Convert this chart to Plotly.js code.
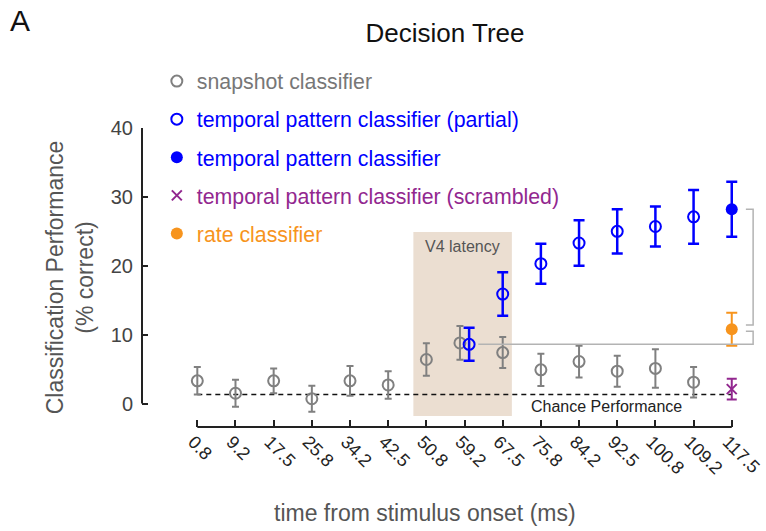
<!DOCTYPE html>
<html>
<head>
<meta charset="utf-8">
<script src="https://cdn.plot.ly/plotly-3.0.1.min.js"></script>
<style>html,body{margin:0;padding:0;background:#fff;}#chart{width:766px;height:531px;}</style>
</head>
<body>
<div id="chart"></div>
<script>
// ---- data ----
const timeLabels = ['0.8','9.2','17.5','25.8','34.2','42.5','50.8','59.2','67.5','75.8','84.2','92.5','100.8','109.2','117.5'];
const snapshotMean = [3.3, 1.5, 3.3, 0.7, 3.3, 2.7, 6.4, 8.8, 7.4, 4.9, 6.1, 4.7, 5.1, 3.1];
const snapshotErr  = [2.0, 1.95, 1.8, 1.9, 2.15, 2.0, 2.35, 2.45, 2.25, 2.35, 2.3, 2.25, 2.8, 2.2];
const partialStart = 7;
const partialMean  = [8.6, 15.9, 20.3, 23.3, 25.0, 25.7, 27.1];
const partialErr   = [2.4, 3.15, 2.9, 3.3, 3.2, 2.9, 3.9];
const fullMean = [28.2];
const fullErr  = [4.0];
const scrambledMean = [2.1];
const scrambledErr  = [1.5];
const rateMean = [10.8];
const rateErr  = [2.4];
const chance = 1.3;
const v4Latency = [5.66, 8.24];   // in time-bin index units
const dodge = 0.12;               // side-by-side offset where snapshot & partial overlap

// ---- build ----
const idx = timeLabels.map((_, i) => i);
const last = timeLabels.length - 1;
const snapX = snapshotMean.map((_, i) => i === partialStart ? i - dodge : i);
const partX = partialMean.map((_, k) => k === 0 ? partialStart + dodge : partialStart + k);

const GRAY = '#808080', BLUE = '#0000ff', PURPLE = '#92278f', ORANGE = '#f7941d';

const traces = [
  {x: [0, last], y: [chance, chance], mode: 'lines', showlegend: false, hoverinfo: 'skip',
   line: {color: '#111', width: 1.5, dash: '5px,4px'}},
  {x: snapX, y: snapshotMean, mode: 'markers', legendgroup: 'a',
   name: '<span style="color:#777">snapshot classifier</span>',
   marker: {symbol: 'circle-open', size: 11, color: GRAY, line: {width: 2, color: GRAY}},
   error_y: {type: 'data', array: snapshotErr, color: GRAY, thickness: 2, width: 3.5}},
  {x: partX, y: partialMean, mode: 'markers', legendgroup: 'b',
   name: '<span style="color:#0000ff">temporal pattern classifier (partial)</span>',
   marker: {symbol: 'circle-open', size: 11, color: BLUE, line: {width: 2, color: BLUE}},
   error_y: {type: 'data', array: partialErr, color: BLUE, thickness: 2.5, width: 5.5}},
  {x: [last], y: fullMean, mode: 'markers', legendgroup: 'c',
   name: '<span style="color:#0000ff">temporal pattern classifier</span>',
   marker: {symbol: 'circle', size: 12, color: BLUE},
   error_y: {type: 'data', array: fullErr, color: BLUE, thickness: 2.5, width: 5.5}},
  {x: [last], y: scrambledMean, mode: 'markers', legendgroup: 'd',
   name: '<span style="color:#92278f">temporal pattern classifier (scrambled)</span>',
   marker: {symbol: 'x-thin', size: 10, color: PURPLE, line: {width: 2, color: PURPLE}},
   error_y: {type: 'data', array: scrambledErr, color: PURPLE, thickness: 2, width: 5}},
  {x: [last], y: rateMean, mode: 'markers', legendgroup: 'e',
   name: '<span style="color:#f7941d">rate classifier</span>',
   marker: {symbol: 'circle', size: 12, color: ORANGE},
   error_y: {type: 'data', array: rateErr, color: ORANGE, thickness: 2, width: 5.5}}
];

const bx0 = last + 0.37, bx1 = last + 0.56;
const upperTop = fullMean[0], upperBot = rateMean[0] + 0.6;
const lowerBot = partialMean[0], lowerTop = rateMean[0] - 0.3;

const layout = {
  width: 766, height: 531,
  margin: {l: 142, r: 6, t: 128, b: 104.3},
  paper_bgcolor: '#fff', plot_bgcolor: 'rgba(0,0,0,0)',
  font: {family: 'Liberation Sans, Arial, sans-serif', color: '#222'},
  title: {text: 'Decision Tree', x: 445/766, xanchor: 'center', y: 1 - 33/531, yanchor: 'middle',
          font: {size: 26, color: '#111'}},
  showlegend: true,
  legend: {x: 0.024, xanchor: 'left', y: 1.225, yanchor: 'top', bgcolor: 'rgba(0,0,0,0)',
           font: {size: 21.3}, tracegroupgap: 7.4, traceorder: 'grouped'},
  xaxis: {range: [-1.449, 14.74], tickmode: 'array', tickvals: idx, ticktext: timeLabels,
          tickangle: 45, ticks: 'inside', ticklen: 7, tickwidth: 2, tickcolor: '#222',
          ticklabeloverflow: 'allow', ticklabelshift: -4,
          showline: false, showgrid: false, zeroline: false,
          tickfont: {size: 18, color: '#222'}},
  yaxis: {range: [-3.4, 40], tickvals: [0, 10, 20, 30, 40], ticks: 'inside', ticklen: 6, tickwidth: 2,
          tickcolor: '#222', showline: false, showgrid: false, zeroline: false,
          ticklabelstandoff: 8,
          tickfont: {size: 20, color: '#444'},
          title: {text: 'Classification Performance<br>(% correct)', font: {size: 23, color: '#555'}, standoff: 10}},
  shapes: [
    {type: 'rect', xref: 'x', yref: 'y', x0: v4Latency[0], x1: v4Latency[1], y0: -1.8, y1: 24.9,
     fillcolor: '#ebded1', line: {width: 0}, layer: 'below'},
    {type: 'line', xref: 'x', yref: 'paper', x0: 0, x1: last, y0: 0, y1: 0, line: {color: '#222', width: 2}},
    {type: 'line', xref: 'paper', yref: 'y', x0: 0, x1: 0, y0: 0, y1: 40, line: {color: '#222', width: 2}},
    {type: 'path', xref: 'x', yref: 'y', line: {color: '#b3b3b3', width: 1.5},
     path: `M ${bx0},${upperTop} L ${bx1},${upperTop} L ${bx1},${upperBot} L ${bx0},${upperBot}`},
    {type: 'path', xref: 'x', yref: 'y', line: {color: '#b3b3b3', width: 1.5},
     path: `M ${partialStart + dodge + 0.24},${lowerBot} L ${bx1},${lowerBot} L ${bx1},${lowerTop} L ${bx0},${lowerTop}`}
  ],
  annotations: [
    {text: 'A', xref: 'paper', yref: 'paper', x: (20 - 142) / 618, y: (426.7 - 21) / 298.7,
     xanchor: 'center', yanchor: 'middle', showarrow: false, font: {size: 30, color: '#111'}},
    {text: 'V4 latency', xref: 'x', yref: 'y', x: 6.95, y: 22.75, showarrow: false,
     xanchor: 'center', yanchor: 'middle', font: {size: 16, color: '#555'}},
    {text: 'Chance Performance', xref: 'x', yref: 'y', x: 10.71, y: -0.4, showarrow: false,
     xanchor: 'center', yanchor: 'middle', font: {size: 16, color: '#222'}},
    {text: 'time from stimulus onset (ms)', xref: 'paper', yref: 'paper', x: (425 - 142) / 618,
     y: (426.7 - 513) / 298.7, xanchor: 'center', yanchor: 'middle', showarrow: false,
     font: {size: 23, color: '#555'}}
  ]
};

Plotly.newPlot('chart', traces, layout, {displayModeBar: false, staticPlot: true});
</script>
</body>
</html>
